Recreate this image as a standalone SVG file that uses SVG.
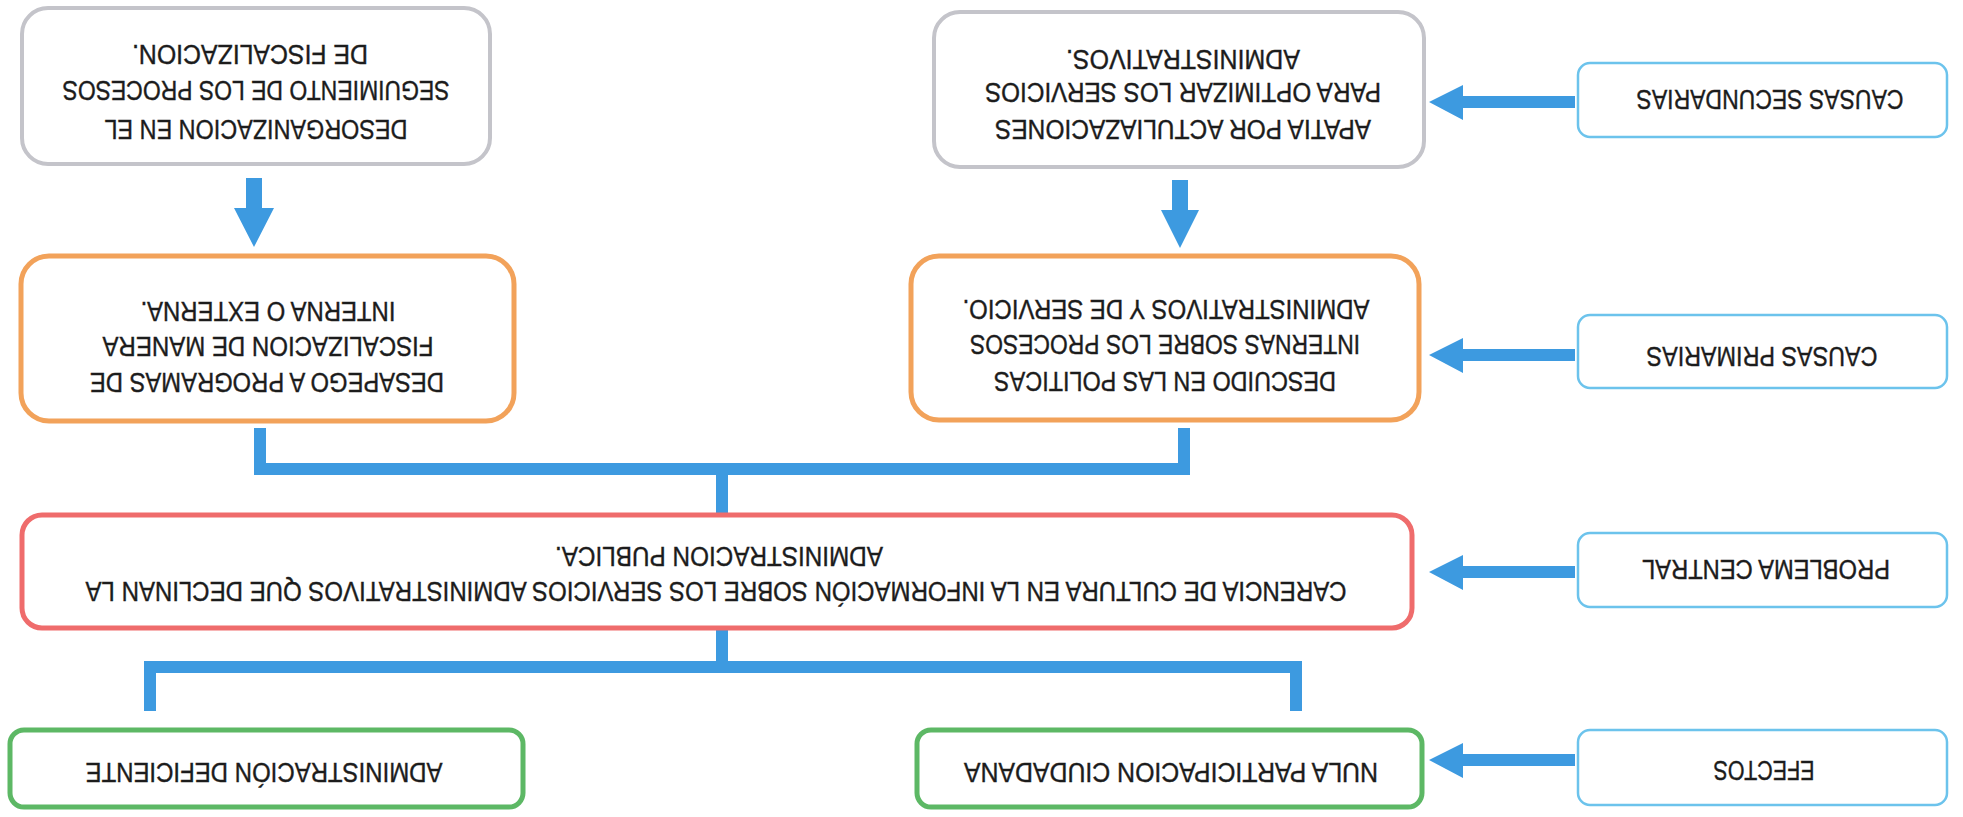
<svg xmlns="http://www.w3.org/2000/svg" width="1963" height="817" viewBox="0 0 1963 817">
<style>
.bg{fill:#ffffff}
.box{fill:#ffffff}
.gray{stroke:#c4c4ca;stroke-width:4}
.orange{stroke:#f2a25a;stroke-width:5}
.red{stroke:#ef6c6c;stroke-width:5}
.green{stroke:#5db865;stroke-width:5}
.lbl{stroke:#6cc3ec;stroke-width:2.5}
.t{font-family:"Liberation Sans",Arial,sans-serif;font-size:21px;fill:#1c1c1c;stroke:#1c1c1c;stroke-width:0.3;text-anchor:middle}
.conn{fill:none;stroke:#3d9ae0;stroke-width:12}
.arr{fill:#3d9ae0}
</style>
<rect class="bg" x="0" y="0" width="1963" height="817"/>

<g id="connectors">
<path class="conn" d="M260 428 V469 H1184 V428"/>
<path class="conn" d="M722 469 V514"/>
<path class="conn" d="M722 627 V667"/>
<path class="conn" d="M150 711 V667 H1296 V711"/>
<path class="arr" d="M246 178 H262 V208 H274 L254 247 L234 208 H246 Z"/>
<path class="arr" d="M1172 180 H1188 V210 H1199 L1180 248 L1161 210 H1172 Z"/>
<path class="arr" d="M1575 96 V108 H1463 V120 L1429 102 L1463 85 V96 Z"/>
<path class="arr" d="M1575 349 V361 H1463 V373 L1429 355 L1463 338 V349 Z"/>
<path class="arr" d="M1575 566 V578 H1463 V590 L1429 572 L1463 555 V566 Z"/>
<path class="arr" d="M1575 754 V766 H1463 V778 L1429 760 L1463 743 V754 Z"/>
</g>

<g id="n-desorganizacion">
<rect class="box gray" x="22" y="8" width="468" height="156" rx="26"/>
<g transform="translate(256 130) rotate(180) scale(1 1.32)"><text class="t" y="7.5" textLength="303" lengthAdjust="spacingAndGlyphs">DESORGANIZACION EN EL</text></g>
<g transform="translate(256 91) rotate(180) scale(1 1.32)"><text class="t" y="7.5" textLength="387" lengthAdjust="spacingAndGlyphs">SEGUIMIENTO DE LOS PROCESOS</text></g>
<g transform="translate(250 55) rotate(180) scale(1 1.32)"><text class="t" y="7.5" textLength="236" lengthAdjust="spacingAndGlyphs">DE FISCALIZACION.</text></g>
</g>

<g id="n-apatia">
<rect class="box gray" x="934" y="12" width="490" height="155" rx="26"/>
<g transform="translate(1183 130) rotate(180) scale(1 1.32)"><text class="t" y="7.5" textLength="376" lengthAdjust="spacingAndGlyphs">APATIA POR ACTULIAZACIONES</text></g>
<g transform="translate(1183 93) rotate(180) scale(1 1.32)"><text class="t" y="7.5" textLength="396" lengthAdjust="spacingAndGlyphs">PARA OPTIMIZAR LOS SERVICIOS</text></g>
<g transform="translate(1183 60) rotate(180) scale(1 1.32)"><text class="t" y="7.5" textLength="234" lengthAdjust="spacingAndGlyphs">ADMINISTRATIVOS.</text></g>
</g>

<g id="n-causas-secundarias">
<rect class="box lbl" x="1578" y="63" width="369" height="74" rx="12"/>
<g transform="translate(1770 100) rotate(180) scale(1 1.32)"><text class="t" y="7.5" textLength="267" lengthAdjust="spacingAndGlyphs">CAUSAS SECUNDARIAS</text></g>
</g>

<g id="n-desapego">
<rect class="box orange" x="21" y="256" width="493" height="165" rx="28"/>
<g transform="translate(267 383) rotate(180) scale(1 1.32)"><text class="t" y="7.5" textLength="354" lengthAdjust="spacingAndGlyphs">DESAPEGO A PROGRAMAS DE</text></g>
<g transform="translate(268 347) rotate(180) scale(1 1.32)"><text class="t" y="7.5" textLength="331" lengthAdjust="spacingAndGlyphs">FISCALIZACION DE MANERA</text></g>
<g transform="translate(268 312) rotate(180) scale(1 1.32)"><text class="t" y="7.5" textLength="255" lengthAdjust="spacingAndGlyphs">INTERNA O EXTERNA.</text></g>
</g>

<g id="n-descuido">
<rect class="box orange" x="911" y="256" width="508" height="164" rx="28"/>
<g transform="translate(1165 382) rotate(180) scale(1 1.32)"><text class="t" y="7.5" textLength="342" lengthAdjust="spacingAndGlyphs">DESCUIDO EN LAS POLITICAS</text></g>
<g transform="translate(1165 345) rotate(180) scale(1 1.32)"><text class="t" y="7.5" textLength="390" lengthAdjust="spacingAndGlyphs">INTERNAS SOBRE LOS PROCESOS</text></g>
<g transform="translate(1166 310) rotate(180) scale(1 1.32)"><text class="t" y="7.5" textLength="407" lengthAdjust="spacingAndGlyphs">ADMINISTRATIVOS Y DE SERVICIO.</text></g>
</g>

<g id="n-causas-primarias">
<rect class="box lbl" x="1578" y="315" width="369" height="73" rx="12"/>
<g transform="translate(1762 357) rotate(180) scale(1 1.32)"><text class="t" y="7.5" textLength="231" lengthAdjust="spacingAndGlyphs">CAUSAS PRIMARIAS</text></g>
</g>

<g id="n-carencia">
<rect class="box red" x="22" y="515" width="1390" height="113" rx="20"/>
<g transform="translate(716 592) rotate(180) scale(1 1.32)"><text class="t" y="7.5" textLength="1261" lengthAdjust="spacingAndGlyphs">CARENCIA DE CULTURA EN LA INFORMACIÓN SOBRE LOS SERVICIOS ADMINISTRATIVOS QUE DECLINAN LA</text></g>
<g transform="translate(719 557) rotate(180) scale(1 1.32)"><text class="t" y="7.5" textLength="328" lengthAdjust="spacingAndGlyphs">ADMINISTRACION PUBLICA.</text></g>
</g>

<g id="n-problema-central">
<rect class="box lbl" x="1578" y="533" width="369" height="74" rx="12"/>
<g transform="translate(1766 570) rotate(180) scale(1 1.32)"><text class="t" y="7.5" textLength="248" lengthAdjust="spacingAndGlyphs">PROBLEMA CENTRAL</text></g>
</g>

<g id="n-administracion-deficiente">
<rect class="box green" x="10" y="730" width="513" height="77" rx="14"/>
<g transform="translate(264 773) rotate(180) scale(1 1.32)"><text class="t" y="7.5" textLength="357" lengthAdjust="spacingAndGlyphs">ADMINISTRACIÓN DEFICIENTE</text></g>
</g>

<g id="n-nula-participacion">
<rect class="box green" x="917" y="730" width="505" height="77" rx="14"/>
<g transform="translate(1171 773) rotate(180) scale(1 1.32)"><text class="t" y="7.5" textLength="414" lengthAdjust="spacingAndGlyphs">NULA PARTICIPACION CIUDADANA</text></g>
</g>

<g id="n-efectos">
<rect class="box lbl" x="1578" y="730" width="369" height="75" rx="12"/>
<g transform="translate(1764 771) rotate(180) scale(1 1.32)"><text class="t" y="7.5" textLength="101" lengthAdjust="spacingAndGlyphs">EFECTOS</text></g>
</g>
</svg>
